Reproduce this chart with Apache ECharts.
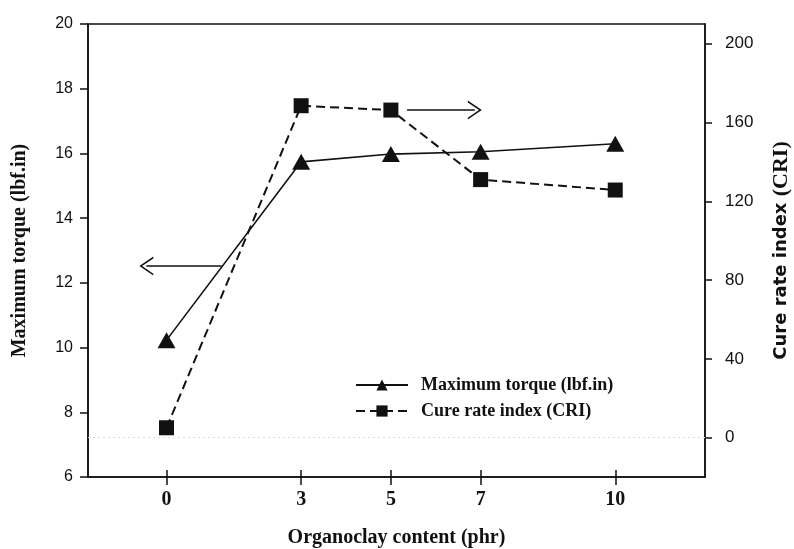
<!DOCTYPE html>
<html>
<head>
<meta charset="utf-8">
<script src="https://cdn.jsdelivr.net/npm/echarts@6/dist/echarts.min.js"></script>
<style>
  html, body { margin: 0; padding: 0; background: #fff; }
  #chart { width: 794px; height: 549px; }
</style>
</head>
<body>
<div id="chart"></div>
<script>
// Organoclay loading (phr) and measured cure properties
const phr = [0, 3, 5, 7, 10];
const torque = [10.23, 15.74, 15.98, 16.05, 16.3];   // lbf.in, left axis
const cri = [5, 168.5, 166.3, 131, 125.7];           // right axis

// Axis tick values
const xTicks = [0, 3, 5, 7, 10];
const criTicks = [0, 40, 80, 120, 160, 200];

// Arrows pointing each curve to its own axis: [x start, x end, y]
const torqueArrow = [1.23, -0.45, 12.52];
const criArrow = [5.36, 6.87, 166.3];

// faint dotted guide along CRI = 0
const criBaseline = 0;

const serif = "'Liberation Serif', 'Times New Roman', serif";
const sans = "'Liberation Sans', Arial, sans-serif";
const ink = '#111';

// open "V" arrow head (tip at top, rotated along the line by ECharts)
const openHead = 'path://M0,0 L9,13 L7.2,13 L0,2.6 L-7.2,13 L-9,13 Z';

const chart = echarts.init(document.getElementById('chart'), null, { renderer: 'canvas' });

chart.setOption({
  animation: false,
  backgroundColor: '#fff',
  grid: {
    left: 88, right: 89, top: 24, bottom: 72,
    outerBoundsMode: 'none', containLabel: false,
    show: true, borderColor: ink, borderWidth: 1.5, backgroundColor: 'transparent'
  },
  legend: {
    orient: 'vertical',
    left: 350, top: 371,
    itemWidth: 52, itemHeight: 14, itemGap: 8,
    textStyle: { fontFamily: serif, fontWeight: 'bold', fontSize: 18, color: ink, padding: [0, 0, 0, 8] },
    data: ['Maximum torque (lbf.in)', 'Cure rate index (CRI)']
  },
  xAxis: [{
    type: 'value', min: -1.75, max: 12,
    name: 'Organoclay content (phr)', nameLocation: 'middle', nameGap: 51,
    nameTextStyle: { fontFamily: serif, fontWeight: 'bold', fontSize: 20, color: ink },
    axisLine: { show: true, onZero: false, lineStyle: { color: ink, width: 1.5 } },
    axisTick: { show: true, length: 8, customValues: xTicks, lineStyle: { color: ink, width: 1.5 } },
    axisLabel: { customValues: xTicks, margin: 13, fontFamily: serif, fontWeight: 'bold', fontSize: 20, color: ink },
    splitLine: { show: false }
  }, {
    // inner half of the crossing x ticks
    type: 'value', min: -1.75, max: 12, position: 'bottom',
    axisLine: { show: false, onZero: false },
    axisTick: { show: true, inside: true, length: 7, customValues: xTicks, lineStyle: { color: ink, width: 1.5 } },
    axisLabel: { show: false },
    splitLine: { show: false }
  }],
  yAxis: [{
    type: 'value', min: 6, max: 20, interval: 2, position: 'left',
    name: 'Maximum torque (lbf.in)', nameLocation: 'middle', nameGap: 58,
    nameTextStyle: { fontFamily: serif, fontWeight: 'bold', fontSize: 20, color: ink },
    axisLine: { show: true, onZero: false, lineStyle: { color: ink, width: 1.5 } },
    axisTick: { show: true, length: 8, lineStyle: { color: ink, width: 1.5 } },
    axisLabel: { margin: 15, fontFamily: sans, fontSize: 16, color: ink },
    splitLine: { show: false }
  }, {
    type: 'value', min: -20, max: 210, position: 'right',
    name: '{a|Cure rate index }{b|(CRI)}', nameLocation: 'middle', nameGap: 65,
    nameTextStyle: {
      color: ink,
      rich: {
        a: { fontFamily: "'DejaVu Sans', Verdana, sans-serif", fontWeight: 'bold', fontSize: 18, color: ink },
        b: { fontFamily: serif, fontWeight: 'bold', fontSize: 22, color: ink }
      }
    },
    axisLine: { show: true, onZero: false, lineStyle: { color: ink, width: 1.5 } },
    axisTick: { show: true, length: 7, customValues: criTicks, lineStyle: { color: ink, width: 1.5 } },
    axisLabel: { customValues: criTicks, margin: 20, fontFamily: sans, fontSize: 17, color: ink },
    splitLine: { show: false }
  }],
  series: [{
    name: 'Maximum torque (lbf.in)',
    type: 'line', xAxisIndex: 0, yAxisIndex: 0,
    data: phr.map((x, i) => [x, torque[i]]),
    symbol: 'triangle', symbolSize: [18, 16],
    lineStyle: { color: ink, width: 1.6, type: 'solid' },
    itemStyle: { color: ink },
    markLine: {
      silent: true, animation: false,
      symbol: ['none', openHead], symbolSize: [19, 14],
      label: { show: false },
      lineStyle: { color: ink, width: 1.5, type: 'solid' },
      data: [[
        { coord: [torqueArrow[0], torqueArrow[2]] },
        { coord: [torqueArrow[1], torqueArrow[2]] }
      ]]
    }
  }, {
    name: 'Cure rate index (CRI)',
    type: 'line', xAxisIndex: 0, yAxisIndex: 1,
    data: phr.map((x, i) => [x, cri[i]]),
    symbol: 'rect', symbolSize: 15,
    lineStyle: { color: ink, width: 2, type: [9, 5] },
    itemStyle: { color: ink },
    markLine: {
      silent: true, animation: false,
      symbol: ['none', openHead], symbolSize: [19, 14],
      label: { show: false },
      lineStyle: { color: ink, width: 1.5, type: 'solid' },
      data: [[
        { coord: [criArrow[0], criArrow[2]] },
        { coord: [criArrow[1], criArrow[2]] }
      ]]
    }
  }, {
    // carrier for the faint guide line only
    name: 'baseline',
    type: 'line', xAxisIndex: 0, yAxisIndex: 1,
    data: [],
    markLine: {
      silent: true, animation: false,
      symbol: 'none',
      label: { show: false },
      lineStyle: { color: '#dedede', width: 1, type: [2, 3] },
      data: [{ yAxis: criBaseline }]
    }
  }]
});
</script>
</body>
</html>
